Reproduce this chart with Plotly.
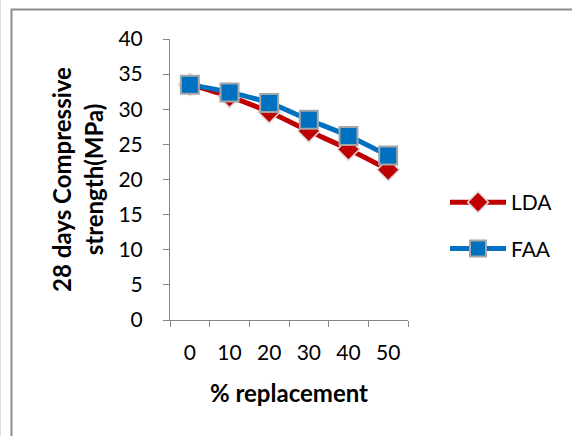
import plotly.graph_objects as go

categories = ["0", "10", "20", "30", "40", "50"]
lda = [33.5, 31.8, 29.6, 26.9, 24.3, 21.4]
faa = [33.5, 32.4, 30.9, 28.5, 26.2, 23.4]
y_ticks = [0, 5, 10, 15, 20, 25, 30, 35, 40]

W, H = 572, 436
L, R, T, B = 170, 164, 39, 116
pw, ph = W - L - R, H - T - B

def px_x(p):
    return (p - L) / pw

def px_y(p):
    return (H - B - p) / ph

FONT = "Lato"
fig = go.Figure()
fig.add_trace(go.Scatter(
    x=categories, y=lda, name="LDA", mode="lines+markers", legendgroup="a",
    line=dict(color="#C00000", width=5, shape="spline", smoothing=0.8),
    marker=dict(symbol="diamond", size=17, color="#C00000",
                line=dict(color="#D9D9D9", width=1.5)),
))
fig.add_trace(go.Scatter(
    x=categories, y=faa, name="FAA", mode="lines+markers", legendgroup="b",
    line=dict(color="#0070C0", width=5, shape="spline", smoothing=0.8),
    marker=dict(symbol="square", size=18, color="#0070C0",
                line=dict(color="#A6A6A6", width=2)),
))

axis_col = "#868686"
fig.update_layout(
    width=W, height=H,
    margin=dict(l=L, r=R, t=T, b=B, autoexpand=False),
    paper_bgcolor="white", plot_bgcolor="white",
    font=dict(family=FONT, size=21, color="black"),
    showlegend=True,
    legend=dict(x=px_x(445), y=px_y(182), xanchor="left", yanchor="top",
                tracegroupgap=16, itemwidth=56, font=dict(size=21),
                bgcolor="rgba(0,0,0,0)"),
    xaxis=dict(type="category", range=[-0.5, 5.5], tickson="boundaries",
               showline=True, linecolor=axis_col, linewidth=1,
               ticks="outside", ticklen=6, tickcolor=axis_col,
               showgrid=False, zeroline=False, ticklabelstandoff=14,
               title=dict(text="<b>% replacement</b>", font=dict(size=24), standoff=21)),
    yaxis=dict(range=[0, 40], tickvals=y_ticks,
               showline=True, linecolor=axis_col, linewidth=1,
               ticks="outside", ticklen=6, tickcolor=axis_col,
               showgrid=False, zeroline=False, ticklabelstandoff=16,
               title=dict(text="<b>28 days Compressive<br>strength(MPa)</b>",
                          font=dict(size=24), standoff=8)),
    shapes=[
        dict(type="rect", xref="paper", yref="paper",
             x0=px_x(11.5), x1=px_x(700), y0=px_y(600), y1=px_y(9.5),
             line=dict(color="#8C8C8C", width=2), fillcolor="rgba(0,0,0,0)", layer="below"),
        dict(type="line", xref="paper", yref="paper",
             x0=px_x(0.5), x1=px_x(0.5), y0=px_y(600), y1=px_y(-10),
             line=dict(color="#DDDDDD", width=1)),
    ],
)

fig.write_html("out.html")
